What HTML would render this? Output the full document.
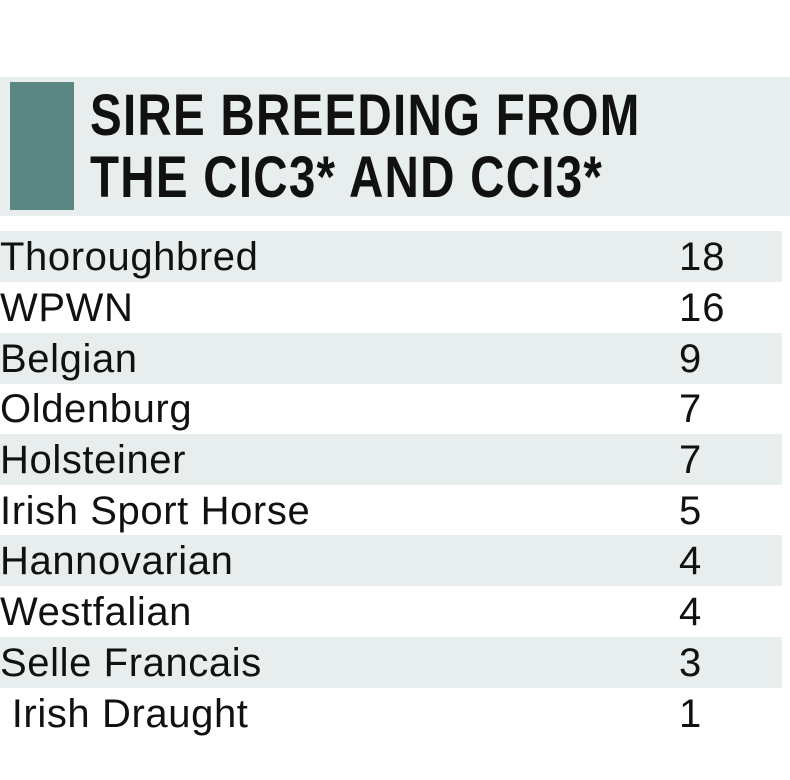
<!DOCTYPE html>
<html><head><style>
html,body{margin:0;padding:0;background:#fff;width:790px;height:780px;overflow:hidden;position:relative;font-family:"Liberation Sans",sans-serif}
.hdr{position:absolute;left:0;top:77px;width:790px;height:139px;background:#e8eded}
.blk{position:absolute;left:10px;top:82px;width:64px;height:128px;background:#5b8681}
.t{position:absolute;left:90px;font-weight:bold;font-size:58px;line-height:60px;white-space:nowrap;transform-origin:0 0;transform:scaleX(0.82);color:#111;letter-spacing:1.5px}
.row{position:absolute;left:0;width:782px;height:51px;font-size:40px;line-height:53px;color:#111;letter-spacing:0.6px}
.s{background:#e8eded}
.n{position:absolute;left:679px;top:0;letter-spacing:1px}
</style></head><body>
<div class="hdr"></div><div class="blk"></div>
<div class="t" style="top:86px">SIRE BREEDING FROM</div>
<div class="t" style="top:148px">THE CIC3* AND CCI3*</div>
<div class="row s" style="top:231px">Thoroughbred<span class="n">18</span></div>
<div class="row" style="top:282px">WPWN<span class="n">16</span></div>
<div class="row s" style="top:333px">Belgian<span class="n">9</span></div>
<div class="row" style="top:383px">Oldenburg<span class="n">7</span></div>
<div class="row s" style="top:434px">Holsteiner<span class="n">7</span></div>
<div class="row" style="top:485px">Irish Sport Horse<span class="n">5</span></div>
<div class="row s" style="top:535px">Hannovarian<span class="n">4</span></div>
<div class="row" style="top:586px">Westfalian<span class="n">4</span></div>
<div class="row s" style="top:637px">Selle Francais<span class="n">3</span></div>
<div class="row" style="top:688px">&nbsp;Irish Draught<span class="n">1</span></div>
</body></html>
